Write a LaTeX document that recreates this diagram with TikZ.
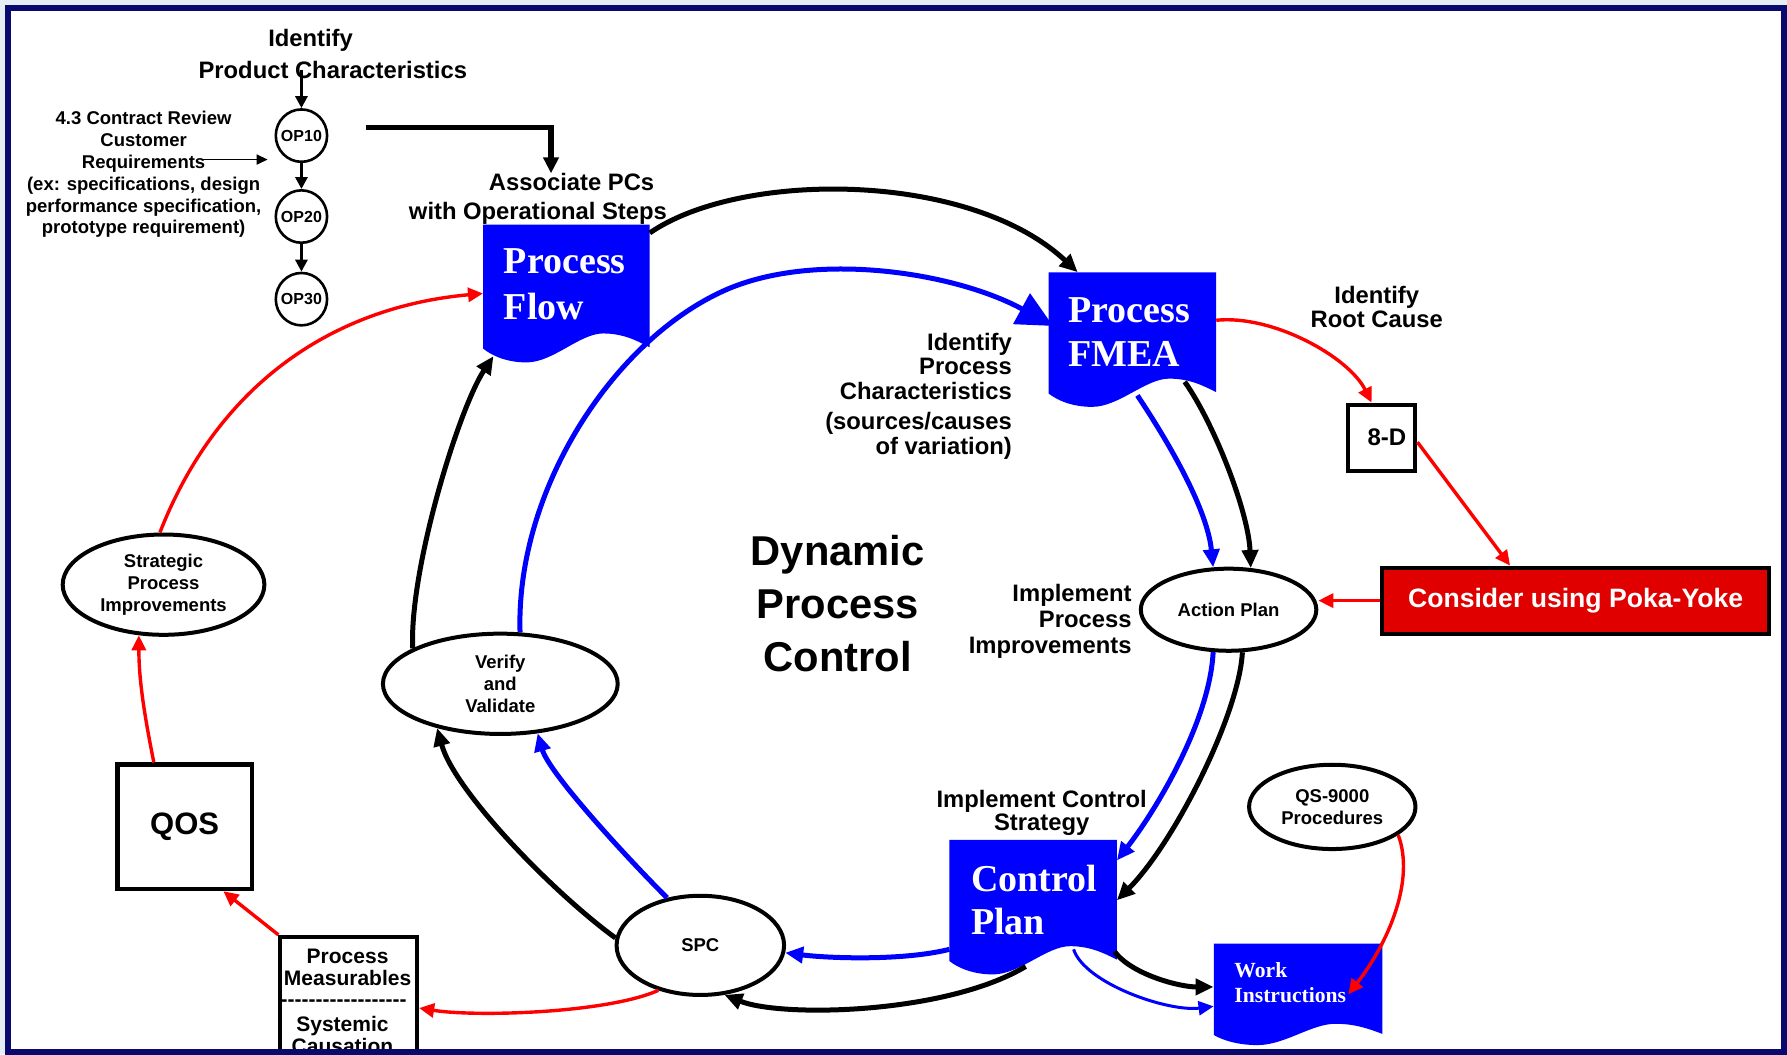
\documentclass[tikz,border=0pt]{standalone}
\usepackage{fontspec}
\setmainfont{Liberation Sans}
\newfontfamily\tmsfont{Liberation Serif}
\usetikzlibrary{arrows.meta,shapes.geometric,calc}

\definecolor{navy}{RGB}{10,10,110}
\definecolor{docblue}{RGB}{0,0,255}
\definecolor{arrred}{RGB}{255,0,0}
\definecolor{pokared}{RGB}{224,0,0}
\definecolor{outerbg}{RGB}{230,238,245}

\pgfdeclarelayer{bg}
\pgfsetlayers{bg,main}

\newcommand\fs[2]{\fontsize{#1}{#2}\selectfont}
\newcommand\hy{-\kern0pt}

% document symbol: name, centre x, centre y, width, height (wavy lower edge)
\newcommand\docshape[5]{%
  \node[docbox, minimum width=#4*1.1397, minimum height=#5*1.1397] (#1) at (#2,#3) {};
  \fill[docblue] ({#2-0.5*#4},{#3-0.5*#5}) -- ({#2+0.5*#4},{#3-0.5*#5}) -- ({#2+0.5*#4},{#3+0.39*#5})
    .. controls ({#2+0.42*#4},{#3+0.34*#5}) and ({#2+0.34*#4},{#3+0.29*#5}) .. ({#2+0.22*#4},{#3+0.29*#5})
    .. controls ({#2+0.08*#4},{#3+0.29*#5}) and ({#2-0.08*#4},{#3+0.5*#5}) .. ({#2-0.24*#4},{#3+0.5*#5})
    .. controls ({#2-0.36*#4},{#3+0.5*#5}) and ({#2-0.45*#4},{#3+0.45*#5}) .. ({#2-0.5*#4},{#3+0.4*#5}) -- cycle;
}

\begin{document}
\begin{tikzpicture}[x=1.1397pt,y=-1.1397pt,
  docbox/.style={rectangle, inner sep=0pt, draw=none},
  doctxt/.style={anchor=base west, inner sep=0pt, text=white, font=\tmsfont\bfseries\fs{38}{45}},
  hdr/.style={inner sep=0pt, align=center, font=\bfseries\fs{23.8}{30.8}},
  oval/.style={draw, ellipse, line width=4pt, fill=white, inner sep=0pt, align=center, font=\bfseries\fs{18.5}{22.2}},
  opc/.style={draw, ellipse, line width=2.6pt, fill=white, inner sep=0pt, font=\bfseries\fs{16}{18}},
  box/.style={draw, rectangle, line width=4.5pt, fill=white, inner sep=0pt},
  karr/.style={line width=5pt, color=black, -{Triangle[length=18pt,width=16pt]}},
  barr/.style={line width=5pt, color=docblue, -{Triangle[length=18pt,width=16pt]}},
  thinbarr/.style={line width=3pt, color=docblue, -{Triangle[length=15pt,width=14pt]}},
  bigarr/.style={line width=5pt, color=docblue, -{Triangle[length=36pt,width=34pt]}},
  rarr/.style={line width=3.4pt, color=arrred, -{Triangle[length=15pt,width=14pt]}},
  opa/.style={line width=3.4pt, -{Triangle[length=12pt,width=12pt]}},
]
\useasboundingbox (0,0) rectangle (1568,925);

\begin{pgfonlayer}{bg}
  \fill[outerbg] (0,0) rectangle (1568,925);
  \fill[white] (7,7) rectangle (1565.3,923);
\end{pgfonlayer}

% ---------- document symbols ----------
\docshape{pf}{497}{257.5}{146}{121}
\docshape{fm}{993.5}{298}{147}{118}
\docshape{cp}{906.5}{796}{147}{118}
\docshape{wi}{1139}{872.5}{148}{89}

\node[doctxt] (pf-a) at (442,240) {Process};
\node[doctxt] (pf-b) at (442,280) {Flow};
\node[doctxt] (fm-a) at (937,283) {Process};
\node[doctxt] (fm-b) at (937,322) {FMEA};
\node[doctxt] (cp-a) at (852,782) {Control};
\node[doctxt] (cp-b) at (852,820) {Plan};
\node[doctxt, font=\tmsfont\bfseries\fs{21.6}{24}] (wi-a) at (1083,858) {Work};
\node[doctxt, font=\tmsfont\bfseries\fs{21.6}{24}] (wi-b) at (1083,880) {Instructions};

% ---------- operation steps ----------
\node[opc, minimum width=51.3, minimum height=52.4] (op10) at (264.5,119) {\makebox[0pt]{OP10}};
\node[opc, minimum width=51.3, minimum height=52.4] (op20) at (264.5,190) {\makebox[0pt]{OP20}};
\node[opc, minimum width=51.3, minimum height=52.4] (op30) at (264.5,262.5) {\makebox[0pt]{OP30}};

% ---------- labels ----------
\node[hdr] (t-ident) at (272.5,35) {Identify};
\node[hdr] (t-prodch) at (292,61) {Product Characteristics};
\node[inner sep=0pt, align=center, font=\bfseries\fs{18.5}{21.9}] (t-contract) at (126,153)
  {4.3 Contract Review\\Customer\\Requirements\\(ex: specifications, design\\performance specification,\\prototype requirement)};
\node[hdr] (t-assoc1) at (501.5,160) {Associate PCs};
\node[hdr] (t-assoc2) at (472,187) {with Operational Steps};
\node[hdr, align=right, anchor=east, font=\bfseries\fs{23.8}{24.5}] (t-idproc) at (888,321.5) {Identify\\Process\\Characteristics};
\node[hdr, align=right, anchor=east, font=\bfseries\fs{23.8}{25}] (t-sources) at (888,382) {(sources/causes\\of variation)};
\node[inner sep=0pt, align=center, font=\bfseries\fs{41.7}{53}] (t-dpc) at (735,530) {Dynamic\\Process\\Control};
\node[hdr, font=\bfseries\fs{23.8}{24}] (t-root) at (1208,269.5) {Identify\\Root Cause};
\node[hdr, align=right, anchor=east, font=\bfseries\fs{23.8}{26}] (t-impl) at (993,545) {Implement\\Process\\Improvements};
\node[hdr, font=\bfseries\fs{23.8}{23}] (t-ctrl) at (914,713) {Implement Control\\Strategy};

% ---------- ellipses ----------
\node[oval, minimum width=175.5, minimum height=82.1] (ap) at (1078,535) {Action Plan};
\node[oval, minimum width=234.8, minimum height=100.3] (vv) at (439,600) {Verify\\and\\Validate};
\node[oval, minimum width=167.5, minimum height=99.2] (spc) at (614.5,829.5) {SPC};
\node[oval, minimum width=201.7, minimum height=100.3] (sp) at (143.5,513) {Strategic\\Process\\Improvements};
\node[oval, minimum width=166.4, minimum height=84.3] (qs) at (1169,708) {QS-9000\\Procedures};

% ---------- boxes ----------
\node[box, minimum width=134.5, minimum height=124.2, font=\bfseries\fs{31}{34}] (qos) at (162,725.5) {QOS};
\node[box, line width=4pt, minimum width=67.2, minimum height=66.1, font=\bfseries\fs{24}{26}] (d8) at (1212.5,384) {\hspace*{10pt}8-D};
\node[box, line width=4pt, fill=pokared, text=white, minimum width=386.4, minimum height=66.1, font=\bfseries\fs{26.6}{30}] (pky) at (1382.5,527) {Consider using Poka-Yoke};
\node[box, line width=4pt, minimum width=136.8, minimum height=128.8] (pm) at (306,878.5) {};
\node[inner sep=0pt, align=center, font=\bfseries\fs{21}{21.5}] (pm-a) at (305,849) {Process\\Measurables};
\node[inner sep=0pt, font=\bfseries\fs{21}{22}] (pm-dash) at (301.5,880) {\hy\hy\hy\hy\hy\hy\hy\hy\hy\hy\hy\hy\hy\hy\hy\hy\hy\hy};
\node[inner sep=0pt, align=center, font=\bfseries\fs{21}{21.5}] (pm-b) at (300.5,908) {Systemic\\Causation};

% ---------- operation flow arrows ----------
\draw[opa] (op10.north |- t-prodch.center) -- (op10.north);
\draw[opa] (op10.south) -- (op20.north);
\draw[opa] (op20.south) -- (op30.north);
\draw[line width=1.6pt, -{Triangle[length=11pt,width=10pt]}] ([shift={(52,-13)}]t-contract.center) -- ([shift={(-6,21)}]op10.west);
\draw[line width=5.5pt, -{Triangle[length=16pt,width=15pt]}] ([shift={(33,-7)}]op10.east) -| ([shift={(-18,0)}]t-assoc1.north);

% ---------- main cycle ----------
\begin{pgfonlayer}{bg}
  \draw[bigarr] (vv.69) .. controls +(-4,-126) and +(-100,42) .. (640,253)
    .. controls +(80,-33) and +(-84,-46) .. ([shift={(-69.5,-12)}]fm.center);
\end{pgfonlayer}
\draw[karr] (pf.36) .. controls +(80,-55) and +(-95,-89) .. (fm.129);
\draw[karr] ([shift={(46,37)}]fm.center) .. controls +(25,35) and +(-2,-50) .. (ap.62);
\draw[barr] ([shift={(4.5,49)}]fm.center) .. controls +(30,45) and +(-5,-50) .. (ap.110);
\draw[barr] (ap.-110) .. controls +(-3,60) and +(35,-45) .. ([shift={(73.5,-41)}]cp.center);
\draw[karr] (ap.-72) .. controls +(-3,55) and +(50,-50) .. ([shift={(73.5,-6)}]cp.center);
\draw[barr] ([shift={(-73.5,37)}]cp.center) .. controls +(-40,10) and +(40,5) .. (spc.-5);
\draw[karr] ([shift={(-6.5,52)}]cp.center) .. controls +(-70,42) and +(50,20) .. (spc.-64);
\draw[karr] (spc.175) .. controls +(-55,-40) and +(15,55) .. (vv.215);
\draw[barr] (spc.125) .. controls +(-35,-35) and +(10,35) .. (vv.-53);
\draw[karr] (vv.158) .. controls +(-3,-70) and +(-30,45) .. ([shift={(-64,55)}]pf.center);

% ---------- to work instructions ----------
\draw[karr] ([shift={(71.5,39)}]cp.center) .. controls +(15,20) and +(-30,0) .. ([shift={(0,-6.5)}]wi.west);
\draw[thinbarr] ([shift={(35.5,37)}]cp.center) .. controls +(10,30) and +(-40,5) .. ([shift={(0,10.5)}]wi.west);

% ---------- improvement links ----------
\draw[rarr] (sp.94) .. controls +(50,-128) and +(-134,12) .. (pf.west);
\draw[rarr] ([shift={(-27,0)}]qos.north) .. controls +(-8,-40) and +(0,40) .. (sp.-116);
\draw[rarr] (pm.north west) -- ([shift={(34,0)}]qos.south);
\draw[rarr] (spc.-133) .. controls +(-45,20) and +(50,8) .. ([shift={(0,6)}]pm.east);
\draw[rarr] ([shift={(0,-17)}]fm.east) .. controls +(50,-5) and +(-20,-40) .. ([shift={(-9,0)}]d8.north);
\draw[rarr] ([shift={(0,4)}]d8.east) -- ([shift={(-57.5,0)}]pky.north);
\draw[rarr] (pky.west) -- (pky.west -| ap.east);
\draw[rarr] (qs.-23) .. controls +(15,40) and +(35,-45) .. ([shift={(44,0)}]wi.center);

% ---------- frame ----------
\draw[navy, line width=6pt] (7,7) rectangle (1565.3,923);
\end{tikzpicture}
\end{document}
